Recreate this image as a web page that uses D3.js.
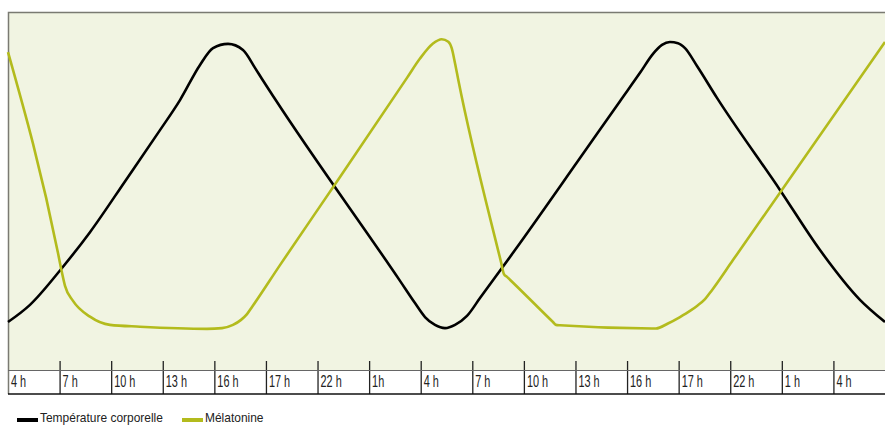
<!DOCTYPE html>
<html>
<head>
<meta charset="utf-8">
<script src="https://cdn.jsdelivr.net/npm/d3@7"></script>
<style>
  body { margin: 0; background: #fff; }
  text { font-family: "Liberation Sans", Arial, sans-serif; fill: #222; }
</style>
</head>
<body>
<script>
// Hour labels, one per column
const hours = ['4 h', '7 h', '10 h', '13 h', '16 h', '17 h', '22 h', '1h', '4 h',
               '7 h', '10 h', '13 h', '16 h', '17 h', '22 h', '1 h', '4 h'];

// Body temperature, [column position, relative level 0-100]
const temperature = [
    [0, 13.4], [0.426, 18.2], [1.047, 28.5], [1.589, 38.5], [2.287, 53.1], [2.946, 67.0],
    [3.334, 75.4], [3.722, 85.2], [3.974, 89.9], [4.265, 91.1], [4.555, 89.4], [4.788, 84.4],
    [4.924, 81.3], [5.176, 75.7], [7.599, 24.9], [7.889, 18.7], [8.083, 14.8], [8.277, 12.6],
    [8.471, 11.7], [8.665, 12.6], [8.897, 15.1], [9.149, 20.1], [9.828, 33.5], [11.088, 59.2],
    [11.863, 75.1], [12.251, 83.0], [12.503, 88.3], [12.677, 90.8], [12.832, 91.6], [12.987, 91.3],
    [13.123, 89.9], [13.356, 84.9], [13.743, 76.0], [14.964, 50.3], [15.74, 33.5], [16.515, 19.6],
    [17, 13.4]
];

// Melatonin, [column position, relative level 0-100]
const melatonin = [
    [0, 88.8], [0.969, 32.7], [1.027, 28.5], [1.105, 23.5], [1.26, 19.3], [1.589, 14.9],
    [1.977, 12.6], [2.559, 12.1], [3.857, 11.5], [4.148, 11.7], [4.361, 12.6], [4.517, 14.0],
    [4.633, 15.6], [4.73, 17.6], [5.272, 29.3], [6.436, 53.9], [7.734, 81.6], [7.986, 87.0],
    [8.238, 91.2], [8.407, 92.4], [8.535, 91.7], [8.601, 89.9], [8.665, 85.7], [8.729, 81.0],
    [9.556, 30.2], [9.614, 26.8], [9.673, 26.0], [10.564, 13.4], [10.622, 12.6], [10.7, 12.5],
    [12.483, 11.6], [12.561, 11.6], [12.793, 13.0], [13.026, 14.8], [13.22, 16.5], [13.356, 17.9],
    [13.511, 19.8], [13.646, 22.3], [14.053, 30.7], [17, 91.6]
];

const width = 885, height = 425;
const plotLeft = 8, plotRight = 885, plotTop = 12, plotBottom = 370, rowBottom = 394;

const svg = d3.select('body').append('svg')
    .attr('width', width)
    .attr('height', height);

const x = d3.scaleLinear().domain([0, hours.length]).range([plotLeft, plotRight]);
const y = d3.scaleLinear().domain([0, 100]).range([plotBottom, plotTop]);

// plot background
svg.append('rect')
    .attr('x', plotLeft).attr('y', plotTop)
    .attr('width', plotRight - plotLeft).attr('height', plotBottom - plotTop)
    .attr('fill', '#f1f4e2');

// top and left border
svg.append('path')
    .attr('d', `M${plotLeft + 0.5},${rowBottom} V${plotTop + 0.5} H${plotRight}`)
    .attr('fill', 'none')
    .attr('stroke', '#7a7a72')
    .attr('stroke-width', 1.5);

// column separators
const sepAxis = d3.axisBottom(x)
    .tickValues(d3.range(1, hours.length))
    .tickSize(rowBottom - 361)
    .tickFormat('');
const sep = svg.append('g')
    .attr('transform', `translate(0,361)`)
    .call(sepAxis);
sep.select('.domain').remove();
sep.selectAll('line').attr('stroke', '#222').attr('stroke-width', 1.3);

// line under the plot and bottom line
svg.append('line')
    .attr('x1', plotLeft).attr('x2', plotRight)
    .attr('y1', plotBottom + 0.5).attr('y2', plotBottom + 0.5)
    .attr('stroke', '#666').attr('stroke-width', 1.2);
svg.append('line')
    .attr('x1', plotLeft).attr('x2', plotRight)
    .attr('y1', rowBottom).attr('y2', rowBottom)
    .attr('stroke', '#111').attr('stroke-width', 1.5);

// hour labels (condensed look)
svg.append('g').selectAll('text')
    .data(hours)
    .join('text')
    .attr('transform', (d, i) => `translate(${x(i) + 3},387) scale(0.66,1)`)
    .attr('font-size', 16.5)
    .text(d => d);

// curves
const line = d3.line()
    .x(d => x(d[0]))
    .y(d => y(d[1]))
    .curve(d3.curveMonotoneX);

svg.append('path')
    .datum(temperature)
    .attr('d', line)
    .attr('fill', 'none')
    .attr('stroke', '#000')
    .attr('stroke-width', 2.6);

svg.append('path')
    .datum(melatonin)
    .attr('d', line)
    .attr('fill', 'none')
    .attr('stroke', '#b3bb1d')
    .attr('stroke-width', 2.6);

// legend
const legend = [
    { label: 'Température corporelle', color: '#000', x: 17 },
    { label: 'Mélatonine', color: '#b3bb1d', x: 182 }
];
const lg = svg.append('g').selectAll('g')
    .data(legend)
    .join('g')
    .attr('transform', d => `translate(${d.x},0)`);
lg.append('rect')
    .attr('x', 0).attr('y', 418)
    .attr('width', 21).attr('height', 4)
    .attr('fill', d => d.color);
lg.append('text')
    .attr('transform', 'translate(23,421.5) scale(0.92,1)')
    .attr('font-size', 13)
    .text(d => d.label);
</script>
</body>
</html>
